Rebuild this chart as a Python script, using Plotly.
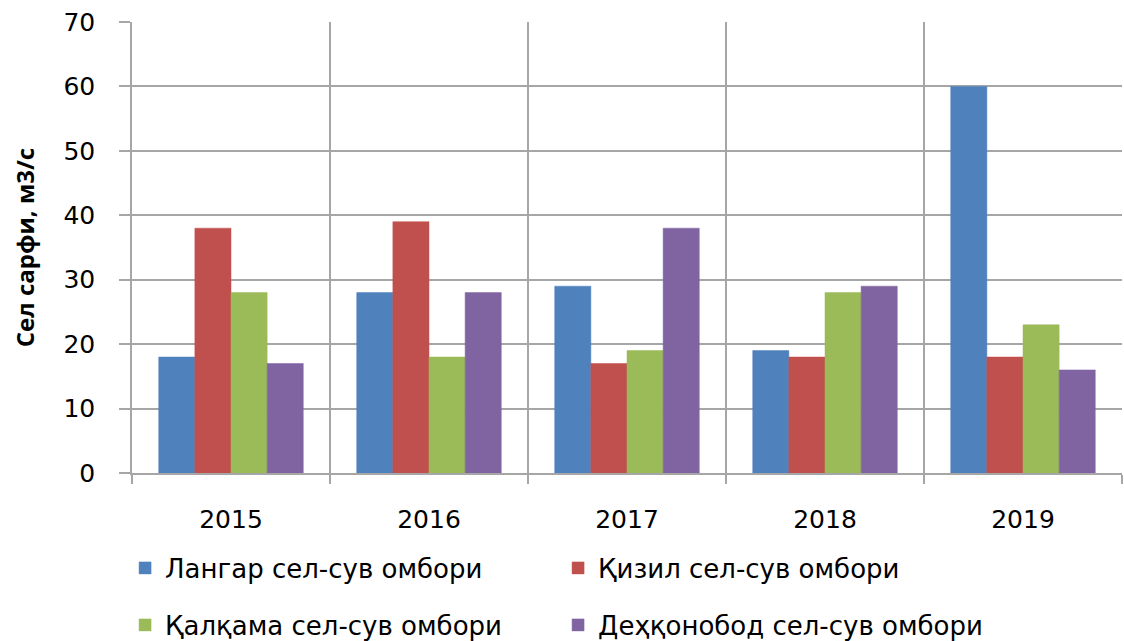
import plotly.graph_objects as go

years = ["2015", "2016", "2017", "2018", "2019"]
series_names = ["Лангар сел-сув омбори", "Қизил сел-сув омбори",
                "Қалқама сел-сув омбори", "Деҳқонобод сел-сув омбори"]
langar = [18, 28, 29, 19, 60]
qizil = [38, 39, 17, 18, 18]
qalqama = [28, 18, 19, 28, 23]
dehqonobod = [17, 28, 38, 29, 16]
colors = ["#4F81BD", "#C0504D", "#9BBB59", "#8064A2"]
y_title = "Сел сарфи, м3/с"

values = [langar, qizil, qalqama, dehqonobod]
xpos = list(range(len(years)))
legends = ["legend", "legend", "legend2", "legend2"]

fig = go.Figure()
for name, vals, col, lg in zip(series_names, values, colors, legends):
    fig.add_trace(go.Bar(x=xpos, y=vals, name=name, legend=lg,
                         marker=dict(color=col, line=dict(color=col, width=0.5))))

tick_family = "DejaVu Sans, sans-serif"
legend_font = dict(family="DejaVu Sans, sans-serif", size=26, color="#000000")
grid = "#a6a6a6"

fig.update_layout(
    width=1124, height=641,
    margin=dict(l=132, r=2, t=22, b=168, autoexpand=False),
    paper_bgcolor="white", plot_bgcolor="white",
    barmode="group", bargap=0.27, bargroupgap=0,
    font=dict(family=tick_family, size=20, color="#000000"),
    legend=dict(orientation="h", x=-0.007, xanchor="left", y=-0.2106, yanchor="middle",
                entrywidth=388, entrywidthmode="pixels", font=legend_font,
                itemwidth=30, bgcolor="rgba(0,0,0,0)"),
    legend2=dict(orientation="h", x=-0.007, xanchor="left", y=-0.337, yanchor="middle",
                 entrywidth=388, entrywidthmode="pixels", font=legend_font,
                 itemwidth=30, bgcolor="rgba(0,0,0,0)"),
)

fig.update_xaxes(
    range=[-0.5, len(years) - 0.5],
    tickvals=xpos, ticktext=years, ticks="", showgrid=False,
    tickfont=dict(family=tick_family, size=25, color="#000000"),
    ticklabelstandoff=23,
    showline=True, linecolor=grid, linewidth=1.5,
    minor=dict(tickvals=[i - 0.5 for i in range(len(years) + 1)], showgrid=True,
               gridcolor=grid, gridwidth=1.5, ticks="outside", ticklen=9,
               tickcolor=grid, tickwidth=1.5),
    zeroline=False,
)
fig.update_yaxes(
    range=[0, 70], dtick=10, showgrid=True, gridcolor=grid, gridwidth=1.5,
    ticks="outside", ticklen=11, tickcolor=grid, tickwidth=1.5,
    ticklabelstandoff=19,
    showline=True, linecolor=grid, linewidth=1.5, zeroline=False,
    tickfont=dict(family=tick_family, size=25, color="#000000"),
    title=dict(text="<b>" + y_title + "</b>", standoff=22,
               font=dict(family="Open Sans, sans-serif", size=24)),
)

fig.write_html("out.html", config={"displayModeBar": False},
               post_script="document.body.style.margin='0';")
